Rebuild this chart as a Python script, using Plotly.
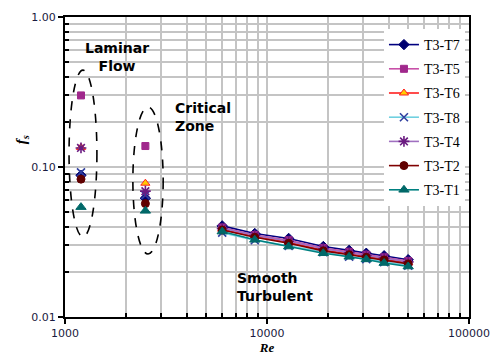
import plotly.graph_objects as go

# ---- data ----
re_laminar = 1200
re_critical = 2500
re_turb = [6000, 8700, 12800, 19000, 25500, 31000, 38000, 50000]

series_names = ["T3-T7", "T3-T5", "T3-T6", "T3-T8", "T3-T4", "T3-T2", "T3-T1"]
f_laminar = [0.088, 0.30, 0.135, 0.092, 0.134, 0.083, 0.054]
f_critical = [0.062, 0.138, 0.078, 0.065, 0.069, 0.057, 0.051]
f_t7 = [0.0405, 0.0360, 0.0334, 0.0295, 0.0278, 0.0266, 0.0256, 0.0241]
f_t5 = [0.0395, 0.0352, 0.0325, 0.0288, 0.0272, 0.0260, 0.0250, 0.0236]
f_t6 = [0.0385, 0.0345, 0.0315, 0.0280, 0.0264, 0.0253, 0.0243, 0.0230]
f_t8 = [0.0365, 0.0325, 0.0298, 0.0270, 0.0252, 0.0243, 0.0232, 0.0220]
f_t4 = [0.0390, 0.0350, 0.0320, 0.0285, 0.0268, 0.0257, 0.0247, 0.0233]
f_t2 = [0.0380, 0.0340, 0.0310, 0.0276, 0.0260, 0.0250, 0.0240, 0.0226]
f_t1 = [0.0371, 0.0327, 0.0295, 0.0266, 0.0252, 0.0242, 0.0229, 0.0217]
f_turb = [f_t7, f_t5, f_t6, f_t8, f_t4, f_t2, f_t1]

x_major = [1000, 10000, 100000]
x_major_labels = ["1000", "10000", "100000"]
y_major = [0.01, 0.1, 1.0]
y_major_labels = ["0.01", "0.10", "1.00"]
x_minor = [m * d for d in (1000, 10000) for m in range(2, 10)]
y_minor = [round(m * d, 4) for d in (0.01, 0.1) for m in range(2, 10)]

# ---- styles ----
line_colors = ["#000080", "#c850a8", "#ff2020", "#70d0e0", "#a070c0", "#800000", "#008080"]
marker_colors = ["#000070", "#a0288c", "#ffcc00", "#3040a0", "#6a1a80", "#600000", "#006868"]
marker_line = ["#000070", "#a0288c", "#ff2020", "#3040a0", "#6a1a80", "#600000", "#006868"]
symbols = ["diamond", "square", "triangle-up", "x-thin-open", "asterisk-open", "circle", "triangle-up"]
sizes = [8, 7, 8, 8, 9, 8, 9]

fig = go.Figure()
for i, name in enumerate(series_names):
    xs = [re_laminar, None, re_critical, None] + re_turb
    ys = [f_laminar[i], None, f_critical[i], None] + f_turb[i]
    open_sym = symbols[i].endswith("open")
    fig.add_trace(go.Scatter(
        x=xs, y=ys, name=name, legendgroup=name, mode="lines+markers", connectgaps=False,
        line=dict(color=line_colors[i], width=1.6),
        marker=dict(symbol=symbols[i], size=sizes[i], color=marker_colors[i],
                    line=dict(color=marker_line[i], width=1.6 if open_sym else 1)),
    ))

grid = "#c4c4c4"
tickfont = dict(family="DejaVu Sans", size=11, color="#1a1a40")
fig.update_xaxes(
    type="log", range=[3, 5], tickvals=x_major, ticktext=x_major_labels,
    ticks="outside", ticklen=5, tickcolor="black", tickwidth=1.5,
    showline=True, linecolor="black", linewidth=2, mirror=True,
    showgrid=True, gridcolor=grid, gridwidth=1.5, zeroline=False,
    tickfont=tickfont, automargin=False,
    minor=dict(tickvals=x_minor, ticks="inside", ticklen=4, tickcolor="black",
               showgrid=True, gridcolor=grid, gridwidth=1.5),
    title=dict(text="<b><i>Re</i></b>", font=dict(family="Liberation Serif", size=13, color="black"),
               standoff=2),
)
fig.update_yaxes(
    type="log", range=[-2, 0], tickvals=y_major, ticktext=y_major_labels,
    ticks="outside", ticklen=5, tickcolor="black", tickwidth=1.5,
    showline=True, linecolor="black", linewidth=2, mirror=True,
    showgrid=True, gridcolor=grid, gridwidth=1.5, zeroline=False,
    tickfont=tickfont, automargin=False,
    minor=dict(tickvals=y_minor, ticks="inside", ticklen=4, tickcolor="black",
               showgrid=True, gridcolor=grid, gridwidth=1.5),
)

# y-axis title placed as a rotated annotation (matches the reference position)
fig.add_annotation(xref="paper", yref="paper", x=-0.106, y=0.59, xanchor="center", yanchor="middle",
                   text="<b><i>f<sub>s</sub></i></b>", textangle=-90, showarrow=False,
                   font=dict(family="Liberation Serif", size=15, color="black"))

# dashed ellipses around the laminar and critical clusters
for (x0, x1, y0, y1) in [(0.010, 0.079, 0.267, 0.823), (0.168, 0.243, 0.21, 0.70)]:
    fig.add_shape(type="circle", xref="x domain", yref="y domain", x0=x0, x1=x1, y0=y0, y1=y1,
                  line=dict(color="black", width=1.6, dash="dash"))

label_font = dict(family="DejaVu Sans", size=14, color="black")
fig.add_annotation(xref="paper", yref="paper", x=0.129, y=0.867, xanchor="center", yanchor="middle",
                   text="<b>Laminar<br>Flow</b>", showarrow=False, align="center", font=label_font)
fig.add_annotation(xref="paper", yref="paper", x=0.268, y=0.668, xanchor="left", yanchor="middle",
                   text="<b>Critical<br>Zone</b>", showarrow=False, align="left", font=label_font)
fig.add_annotation(xref="paper", yref="paper", x=0.42, y=0.10, xanchor="left", yanchor="middle",
                   text="<b>Smooth<br>Turbulent</b>", showarrow=False, align="left", font=label_font)

fig.update_layout(
    width=493, height=358,
    margin=dict(l=65, r=24, t=17, b=41),
    paper_bgcolor="white", plot_bgcolor="white",
    showlegend=True,
    legend=dict(x=0.99, xanchor="right", y=0.96, yanchor="top", bgcolor="white",
                font=dict(family="Liberation Serif", size=14, color="black"),
                tracegroupgap=3, itemwidth=30),
)

fig.write_html("out.html")
